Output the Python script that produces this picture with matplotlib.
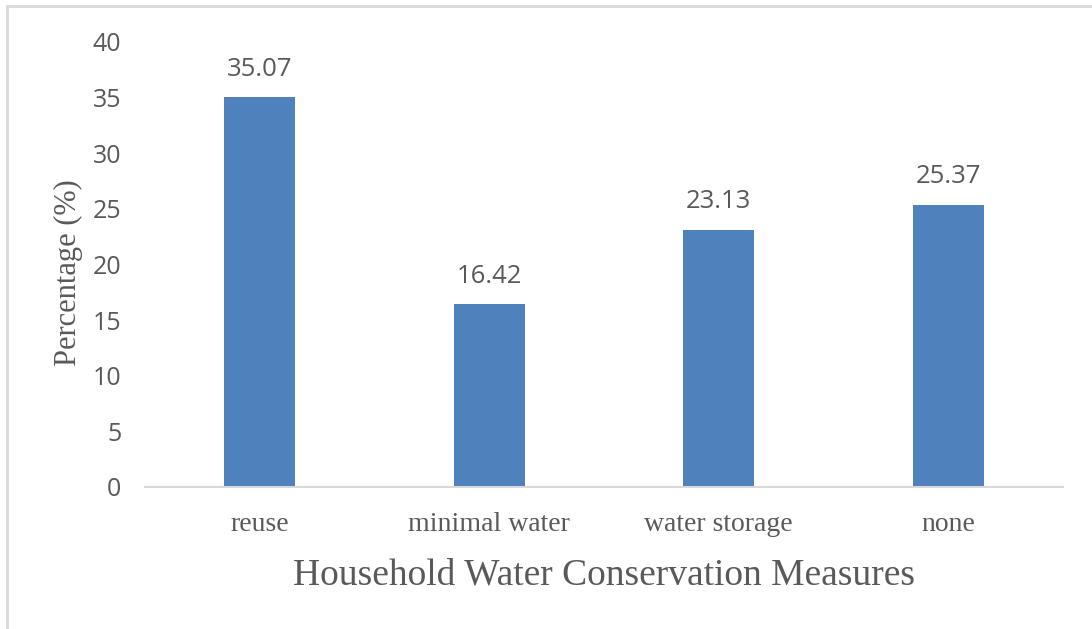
import matplotlib.pyplot as plt
from matplotlib.patches import Rectangle

# Data
measures = ['reuse', 'minimal water', 'water storage', 'none']
percentages = [35.07, 16.42, 23.13, 25.37]
y_ticks = [0, 5, 10, 15, 20, 25, 30, 35, 40]

bar_color = '#4F81BD'
text_color = '#595959'
grid_color = '#D9D9D9'

fig = plt.figure(figsize=(10.92, 6.29), dpi=100)
ax = fig.add_axes([0.1328, 0.2258, 0.8406, 0.7075])

bars = ax.bar(range(len(measures)), percentages, width=0.31, color=bar_color)
ax.set_xlim(-0.5, len(measures) - 0.5)
ax.set_ylim(0, 40)
ax.set_yticks(y_ticks)
ax.set_yticklabels([str(t) for t in y_ticks], fontfamily='Open Sans', fontsize=18, color=text_color)
ax.set_xticks(range(len(measures)))
ax.set_xticklabels(measures, fontfamily='Liberation Serif', fontsize=20, color=text_color)
ax.tick_params(axis='both', length=0)
ax.tick_params(axis='y', pad=17)
ax.tick_params(axis='x', pad=18)

for s in ['top', 'right', 'left']:
    ax.spines[s].set_visible(False)
ax.spines['bottom'].set_color(grid_color)
ax.spines['bottom'].set_linewidth(1.5)

# value labels
for b, v in zip(bars, percentages):
    ax.annotate(f'{v:.2f}', (b.get_x() + b.get_width() / 2, v), xytext=(0, 11),
                textcoords='offset points', ha='center', va='bottom',
                fontfamily='Open Sans', fontsize=18.5, color=text_color)

ax.set_ylabel('Percentage (%)', fontfamily='Liberation Serif', fontsize=22, color=text_color)
ax.yaxis.set_label_coords(-0.068, 0.482)
ax.set_xlabel('Household Water Conservation Measures', fontfamily='Liberation Serif', fontsize=27,
              color=text_color, labelpad=15)

# chart border
fig.patches.append(Rectangle((7 / 1092, -0.1), 1.2, 1 - 6 / 629 + 0.1, transform=fig.transFigure,
                             fill=False, edgecolor=grid_color, linewidth=2))

fig.savefig('out.png', dpi=100)
